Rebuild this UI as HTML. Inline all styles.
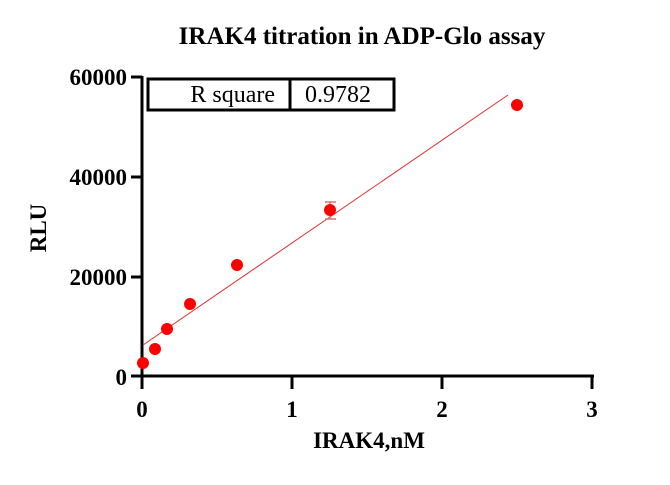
<!DOCTYPE html>
<html><head><style>body{margin:0;background:#fff}</style></head><body>
<svg width="670" height="480" viewBox="0 0 670 480" xmlns="http://www.w3.org/2000/svg" font-family="Liberation Serif, serif">
<rect width="670" height="480" fill="#fff"/>
<text x="362" y="44" font-size="25" font-weight="bold" text-anchor="middle">IRAK4 titration in ADP-Glo assay</text>
<text x="46" y="228" font-size="23" font-weight="bold" text-anchor="middle" transform="rotate(-90 46 228)">RLU</text>
<text x="369" y="448" font-size="23" font-weight="bold" text-anchor="middle">IRAK4,nM</text>
<g stroke="#000" stroke-width="3" fill="none">
<line x1="142" y1="76" x2="142" y2="378"/>
<line x1="131" y1="376" x2="594" y2="376"/>
<line x1="131" y1="77" x2="142" y2="77"/>
<line x1="131" y1="177" x2="142" y2="177"/>
<line x1="131" y1="277" x2="142" y2="277"/>
<line x1="142" y1="376" x2="142" y2="389"/>
<line x1="292" y1="376" x2="292" y2="389"/>
<line x1="442" y1="376" x2="442" y2="389"/>
<line x1="592" y1="376" x2="592" y2="389"/>
<rect x="148" y="79" width="246" height="31"/>
<line x1="290" y1="79" x2="290" y2="110"/>
</g>
<g font-size="23" font-weight="bold" text-anchor="end">
<text x="127" y="85">60000</text><text x="127" y="185">40000</text><text x="127" y="285">20000</text><text x="127" y="385">0</text>
</g>
<g font-size="23" font-weight="bold" text-anchor="middle">
<text x="142" y="417">0</text><text x="292" y="417">1</text><text x="442" y="417">2</text><text x="592" y="417">3</text>
</g>
<text x="275" y="102" font-size="24" text-anchor="end">R square</text>
<text x="338" y="102" font-size="24" text-anchor="middle">0.9782</text>
<line x1="143" y1="345" x2="508" y2="95" stroke="#e03030" stroke-width="1"/>
<g stroke="#e07070" stroke-width="1.5"><line x1="330" y1="202" x2="330" y2="219"/><line x1="325" y1="202" x2="336" y2="202"/><line x1="325" y1="219" x2="336" y2="219"/></g>
<g fill="#ff0000">
<circle cx="143" cy="363" r="6"/><circle cx="155" cy="349" r="6"/><circle cx="167" cy="329" r="6"/><circle cx="190" cy="304" r="6"/><circle cx="237" cy="265" r="6"/><circle cx="330" cy="210" r="6"/><circle cx="517" cy="105" r="6"/>
</g>
</svg>
</body></html>
